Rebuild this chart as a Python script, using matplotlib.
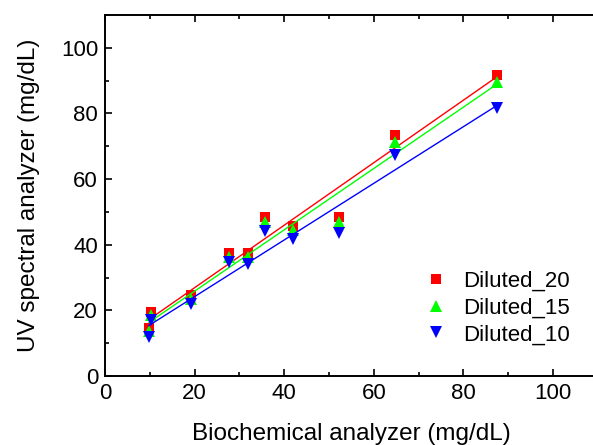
import numpy as np
import matplotlib
matplotlib.use("Agg")
import matplotlib.pyplot as plt
from matplotlib.ticker import MultipleLocator

plt.rcParams["font.family"] = ["Liberation Sans", "DejaVu Sans"]

# biochemical analyzer values (mg/dL)
x_bio = [9.8, 10.2, 19.2, 27.7, 32.0, 35.7, 41.9, 52.2, 64.7, 87.5]

# UV spectral analyzer values (mg/dL)
y_d20 = [14.5, 19.4, 24.6, 37.4, 37.6, 48.6, 45.6, 48.6, 73.4, 91.6]
y_d15 = [13.6, 18.6, 23.6, 36.4, 36.2, 47.0, 44.6, 46.8, 71.2, 89.6]
y_d10 = [11.8, 17.2, 22.0, 34.6, 34.0, 44.2, 41.6, 43.6, 67.2, 81.8]

series = [
    ("Diluted_20", y_d20, "#ff0000", "s", 6.5),
    ("Diluted_15", y_d15, "#00ff00", "^", 8),
    ("Diluted_10", y_d10, "#0000ff", "v", 8),
]

fig = plt.figure(figsize=(5.93, 4.45), dpi=100)
ax = fig.add_axes([105 / 593, 69 / 445, 492.8 / 593, 361 / 445])

x = np.array(x_bio)
handles = []
for name, yv, col, mk, ms in series:
    h, = ax.plot(x, yv, linestyle="none", marker=mk, color=col, markersize=ms,
                 markeredgewidth=0, label=name)
    handles.append(h)
    # linear fit
    k, b = np.polyfit(x, yv, 1)
    xf = np.array([x.min(), x.max()])
    ax.plot(xf, k * xf + b, color=col, linewidth=1)

ax.set_xlim(0, 110)
ax.set_ylim(0, 110)
ax.xaxis.set_major_locator(MultipleLocator(20))
ax.xaxis.set_minor_locator(MultipleLocator(10))
ax.yaxis.set_major_locator(MultipleLocator(20))
ax.yaxis.set_minor_locator(MultipleLocator(10))
ax.tick_params(which="both", direction="in", top=True, right=False, labelsize=16,
               width=1.2)
ax.tick_params(which="major", length=5, pad=5)
ax.tick_params(which="minor", length=3)
for s in ax.spines.values():
    s.set_linewidth(1.4)
ax.spines["right"].set_visible(False)

ax.set_xlabel("Biochemical analyzer (mg/dL)", fontsize=17.5, labelpad=14)
ax.set_ylabel("UV spectral analyzer (mg/dL)", fontsize=17.5, labelpad=15)

ax.legend(handles=handles, loc="upper left", bbox_to_anchor=(408 / 593, 1 - 260 / 445),
          bbox_transform=fig.transFigure, frameon=False, fontsize=16,
          handletextpad=0.5, labelspacing=0.25, borderpad=0, handlelength=1.5)

fig.savefig("out.png", dpi=100)
